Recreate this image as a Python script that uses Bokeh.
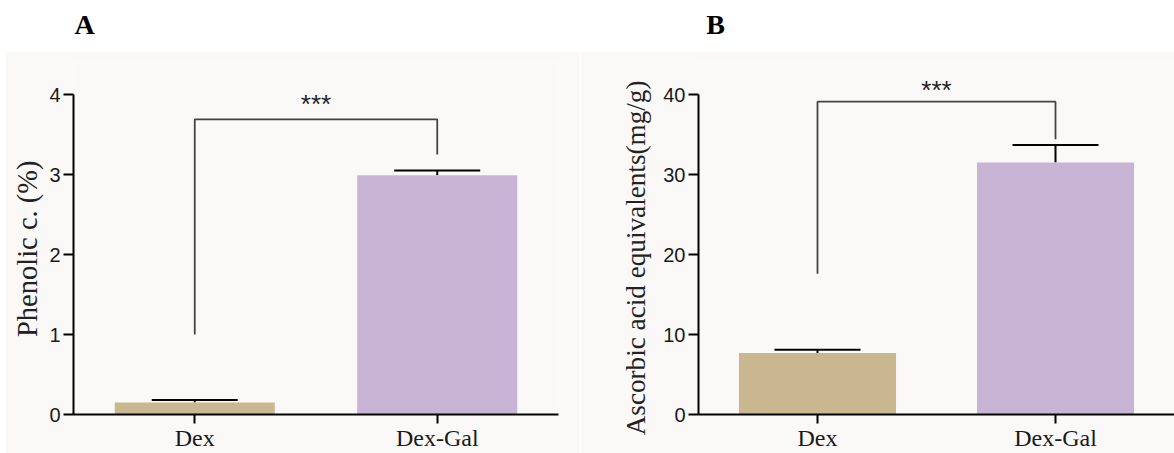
from bokeh.plotting import figure
from bokeh.models import FactorRange, Range1d, ColumnDataSource, Whisker, TeeHead, Label, Spacer, Title
from bokeh.layouts import column, row
from bokeh.embed import file_html
from bokeh.resources import INLINE

# ---- data ----
groups = ["Dex", "Dex-Gal"]
phenolic_mean = [0.15, 2.99]
phenolic_err = [0.03, 0.06]
ascorbic_mean = [7.7, 31.5]
ascorbic_err = [0.4, 2.2]
bar_colors = ["#c9b88f", "#c8b4d4"]
phenolic_ticks = [0, 1, 2, 3, 4]
ascorbic_ticks = [0, 10, 20, 30, 40]
phenolic_bracket = [1.0, 3.69, 3.69, 3.25]
ascorbic_bracket = [17.6, 39.1, 39.1, 34.4]
sig_text = "***"
panel_letters = ["A", "B"]
ylabels = ["Phenolic c. (%)", "Ascorbic acid equivalents(mg/g)"]

BG = "#fbf9f8"
SERIF = "Liberation Serif"
SANS = "Liberation Sans"


def panel(mean, err, ticks, bracket, ylabel, star_y, width, bl, br,
          lab_off, lab_standoff, lab_size):
    ymax = ticks[-1]
    p = figure(x_range=FactorRange(*groups), y_range=Range1d(0, ymax * 1.1),
               width=width, height=402, min_border_left=bl, min_border_right=br,
               min_border_top=11, min_border_bottom=39,
               output_backend="svg", toolbar_location=None,
               background_fill_color=BG, border_fill_color=BG,
               outline_line_color=None)
    src = ColumnDataSource(dict(x=groups, top=mean,
                                upper=[m + e for m, e in zip(mean, err)],
                                color=bar_colors))
    p.vbar(x="x", top="top", width=0.66, source=src, fill_color="color", line_color=None)
    wh = Whisker(base="x", upper="upper", lower="top", source=src,
                 upper_head=TeeHead(size=86, line_width=2, line_color="black"),
                 lower_head=None, line_width=2, line_color="black")
    p.add_layout(wh)
    p.line(x=[groups[0], groups[0], groups[1], groups[1]], y=bracket,
           line_color="#444444", line_width=1.8)
    p.add_layout(Label(x=1.0, y=star_y, text=sig_text, text_align="center",
                       text_baseline="alphabetic", text_font=SANS,
                       text_font_size="26px", text_color="#222222"))
    p.xgrid.grid_line_color = None
    p.ygrid.grid_line_color = None
    for ax in (p.xaxis[0], p.yaxis[0]):
        ax.axis_line_color = "black"
        ax.axis_line_width = 2
        ax.major_tick_line_color = "black"
        ax.major_tick_line_width = 2
        ax.minor_tick_line_color = None
        ax.major_tick_in = 0
    p.yaxis.ticker = ticks
    p.yaxis.bounds = (0, ymax)
    p.yaxis.major_tick_out = 10
    p.yaxis.major_label_standoff = 3
    p.yaxis.major_label_text_font = SANS
    p.yaxis.major_label_text_font_size = "20px"
    p.yaxis.major_label_text_color = "#1a1a1a"
    p.add_layout(Title(text=ylabel, align="right", offset=lab_off,
                       standoff=lab_standoff, text_font=SERIF,
                       text_font_style="normal", text_font_size=lab_size,
                       text_color="#222222"), "left")
    p.xaxis.major_tick_out = 9
    p.xaxis.major_label_standoff = 1
    p.xaxis.major_label_text_font = SERIF
    p.xaxis.major_label_text_font_size = "24px"
    p.xaxis.major_label_text_color = "#1a1a1a"
    return p


pA = panel(phenolic_mean, phenolic_err, phenolic_ticks, phenolic_bracket,
           ylabels[0], 3.88, 575, 68, 22, 98, 8, "28.5px")
pB = panel(ascorbic_mean, ascorbic_err, ascorbic_ticks, ascorbic_bracket,
           ylabels[1], 40.55, 594, 118, 0, 18, 20, "27.2px")

header = figure(width=1174, height=51, x_range=Range1d(0, 1174), y_range=Range1d(0, 51),
                x_axis_type=None, y_axis_type=None, output_backend="svg",
                toolbar_location=None, min_border=0, outline_line_color=None,
                background_fill_color="white", border_fill_color="white")
header.xgrid.grid_line_color = None
header.ygrid.grid_line_color = None
for letter, xpos in zip(panel_letters, [84, 715]):
    header.add_layout(Label(x=xpos, y=27, x_units="screen", y_units="screen", text=letter,
                            text_align="center", text_baseline="alphabetic",
                            text_font=SERIF, text_font_style="bold",
                            text_font_size="28px", text_color="black"))

layout = column(header, row(Spacer(width=5, height=402), pA, pB, spacing=0), spacing=0)

open("out.html", "w").write(file_html(layout, INLINE))
